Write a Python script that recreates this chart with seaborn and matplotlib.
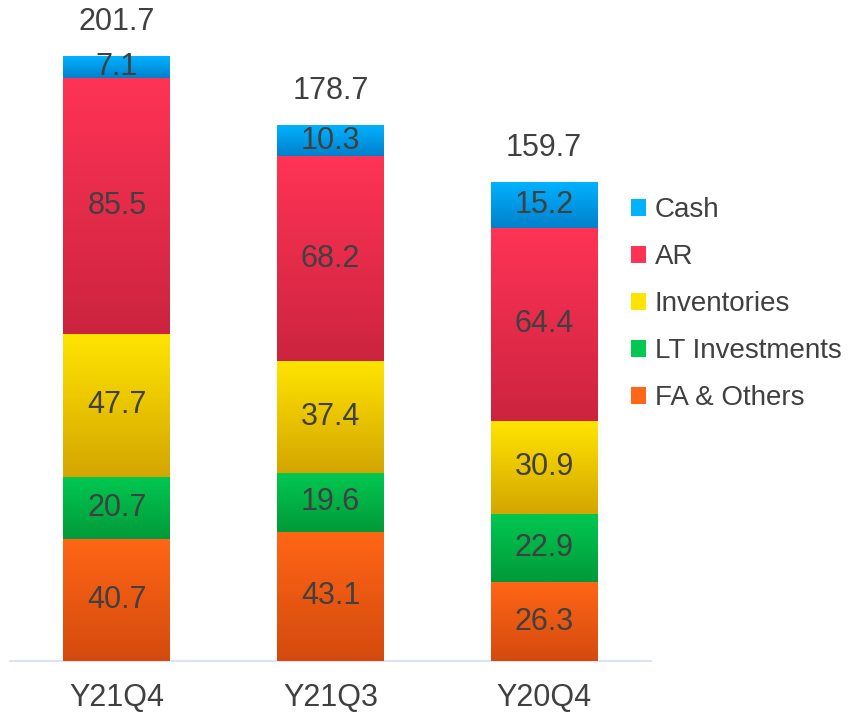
import numpy as np
import pandas as pd
import seaborn as sns
import matplotlib.pyplot as plt
from matplotlib.patches import Patch
from matplotlib.colors import LinearSegmentedColormap

# data, stacked from bottom to top
periods = ["Y21Q4", "Y21Q3", "Y20Q4"]
fa_others = [40.7, 43.1, 26.3]
lt_invest = [20.7, 19.6, 22.9]
inventories = [47.7, 37.4, 30.9]
ar = [85.5, 68.2, 64.4]
cash = [7.1, 10.3, 15.2]
totals = [201.7, 178.7, 159.7]

layers = ["FA & Others", "LT Investments", "Inventories", "AR", "Cash"]
values = [fa_others, lt_invest, inventories, ar, cash]
# (top colour, bottom colour) for the vertical gradient of each segment
grad = {
    "FA & Others": ("#ff6616", "#d44a0e"),
    "LT Investments": ("#00c851", "#009a3a"),
    "Inventories": ("#ffe400", "#d4a600"),
    "AR": ("#ff3355", "#cc2440"),
    "Cash": ("#00b2ff", "#0080cc"),
}

sns.set_theme(style="white")
plt.rcParams["font.family"] = ["Liberation Sans", "DejaVu Sans"]
txt = "#404040"

fig = plt.figure(figsize=(8.5, 7.14), dpi=100)
ax = fig.add_axes([10 / 850, 53 / 714, 641 / 850, 661 / 714])

cum = np.cumsum(np.array(values), axis=0)
df = pd.DataFrame({"period": periods})

# draw cumulative bars from the top layer down so lower layers sit on top
for i in range(len(layers) - 1, -1, -1):
    df["top"] = cum[i]
    sns.barplot(data=df, x="period", y="top", order=periods, color=grad[layers[i]][1],
                width=0.5, ax=ax, saturation=1, linewidth=0, zorder=2)

# gradient fill and value label for every segment
patches = ax.patches[-len(periods):]  # bottom layer patches give x positions
for i, name in enumerate(layers):
    cmap = LinearSegmentedColormap.from_list(name, [grad[name][1], grad[name][0]])
    for j, p in enumerate(patches):
        x0 = p.get_x()
        x1 = x0 + p.get_width()
        lo = cum[i - 1][j] if i > 0 else 0
        hi = cum[i][j]
        ax.imshow(np.linspace(0, 1, 64).reshape(-1, 1), extent=(x0, x1, lo, hi),
                  origin="lower", cmap=cmap, aspect="auto", zorder=3)
        ax.text(x0 + p.get_width() / 2, (lo + hi) / 2, f"{values[i][j]:.1f}",
                ha="center", va="center", fontsize=22, color=txt, zorder=4)

for j, p in enumerate(patches):
    ax.annotate(f"{totals[j]:.1f}", (p.get_x() + p.get_width() / 2, totals[j]),
                xytext=(0, 14), textcoords="offset points", ha="center", va="bottom",
                fontsize=22, color=txt)

ax.set_xlim(-0.5, 2.5)
ax.set_ylim(0, 220.5)
ax.set_xlabel("")
ax.set_ylabel("")
ax.set_yticks([])
ax.tick_params(axis="x", length=0, pad=16, labelsize=22, labelcolor=txt)
for s in ["top", "right", "left"]:
    ax.spines[s].set_visible(False)
ax.spines["bottom"].set_color("#dde3f0")
ax.spines["bottom"].set_linewidth(1.5)
ax.patch.set_alpha(0)

handles = [Patch(facecolor=grad[n][0], edgecolor="none") for n in layers[::-1]]
fig.legend(handles, layers[::-1], loc="upper left", bbox_to_anchor=(631 / 850, 1 - 197 / 714),
           frameon=False, fontsize=20, handlelength=0.55, handleheight=0.55,
           handletextpad=0.3, labelspacing=0.76, labelcolor=txt, borderpad=0,
           borderaxespad=0)

fig.savefig("out.png", dpi=100)
